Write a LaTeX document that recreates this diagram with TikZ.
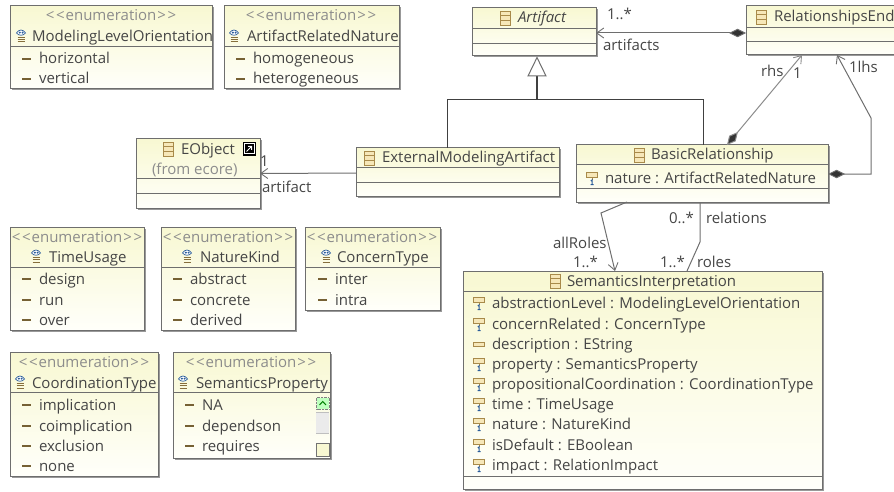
\documentclass[tikz,border=0pt]{standalone}
\usepackage{fontspec}
\setmainfont{Open Sans}
\usetikzlibrary{arrows.meta,shadows,calc}
\definecolor{boxtop}{HTML}{F8F8D2}
\definecolor{boxbot}{HTML}{FFFFFA}
\definecolor{edgec}{HTML}{6E6E6E}
\definecolor{txtc}{HTML}{454545}
\definecolor{sterc}{HTML}{8C8C8C}
\definecolor{tanc}{HTML}{A88A4A}
\definecolor{iconfill}{HTML}{F6E7B8}
\definecolor{bluec}{HTML}{2A5C9A}
\newcounter{lblc}
\newcommand{\sterstr}{<\kern1.6pt<\kern1pt enumeration\kern1pt>\kern1.6pt>}
\tikzset{
  umlbox/.style={draw=edgec,line width=1pt,rectangle,inner sep=0pt,outer sep=0pt,anchor=north west,
    top color=boxtop,bottom color=boxbot,
    drop shadow={shadow xshift=1.5pt,shadow yshift=-1.5pt,fill=black,opacity=.4}},
  divider/.style={draw=edgec,line width=.9pt},
  txt/.style={inner sep=0pt,outer sep=0pt,anchor=base west,text=txtc,font=\fontsize{15}{17}\selectfont},
  mid/.style={txt,anchor=base},
  ster/.style={mid,text=sterc},
  conn/.style={draw=edgec,line width=1pt},
  gen/.style={draw=black!75,line width=1pt},
  open/.style={-{Straight Barb[length=7pt,width=10pt,line width=.9pt]}},
  compopen/.style={{Diamond[length=17pt,width=8.5pt,fill=black!80]}-{Straight Barb[length=7pt,width=10pt,line width=.9pt]}},
  enumdash/.style={draw=tanc!70!black,line width=1.6pt},
}
\newcommand{\umlbox}[7]{%
  \pgfmathsetmacro{\bw}{#4-#2}\pgfmathsetmacro{\bh}{#5-#3}%
  \node[umlbox,minimum width=\bw pt,minimum height=\bh pt] (#1) at (#2,#3) {};
  \foreach \d in {#6}{\draw[divider] (#2,\d) -- (#4,\d);}
}
\newcommand{\lbl}[4][txt]{\stepcounter{lblc}\node[#1] (t\arabic{lblc}) at (#2,#3+5) {#4};}
\newcommand{\classicon}[2]{%
  \draw[tanc,fill=iconfill,line width=.9pt] (#1-5,#2-7) rectangle (#1+5,#2+7);
  \draw[tanc,line width=.9pt] (#1-5,#2-2.3) -- (#1+5,#2-2.3) (#1-5,#2+2.3) -- (#1+5,#2+2.3);}
\newcommand{\enumicon}[2]{%
  \draw[bluec,fill=white,line width=.7pt] (#1-4.5,#2-3) .. controls (#1-2,#2-7) and (#1+2,#2-7) .. (#1+4.5,#2-3) .. controls (#1+2,#2) and (#1-2,#2) .. (#1-4.5,#2-3) -- cycle;
  \fill[bluec] (#1-1.2,#2-3.4) circle (1.1) (#1+1.6,#2-3.4) circle (1.1);
  \draw[tanc!80!black,line width=1pt] (#1-3.5,#2+1.5) -- (#1+3.5,#2+1.5) (#1-3.5,#2+3.8) -- (#1+3.5,#2+3.8) (#1-3.5,#2+6) -- (#1+3.5,#2+6);}
\newcommand{\dashitem}[4]{%
  \draw[enumdash] (#1,#3) -- (#1+8.5,#3);
  \lbl{#2}{#3}{#4}}
\newcommand{\attricon}[2]{%
  \draw[tanc,fill=iconfill,line width=.9pt] (#1-5.5,#2-5.5) rectangle (#1+5.5,#2-1);
  \draw[tanc,line width=.9pt] (#1,#2-1) -- (#1,#2+1.5);
  \draw[bluec,line width=1pt] (#1-1.2,#2+3) -- (#1,#2+2) -- (#1,#2+6.5) (#1-1.5,#2+6.5) -- (#1+1.5,#2+6.5);}
\newcommand{\attr}[3]{\attricon{#1}{#2}\lbl{#1+13}{#2}{#3}}
\begin{document}
\begin{tikzpicture}[x=1pt,y=-1pt]
\useasboundingbox (0,0) rectangle (894,492);
\clip (0,0) rectangle (894,492);
% boxes
\umlbox{modlevel}{10}{6}{212}{89}{46}{}
\umlbox{artnat}{224}{6}{399}{89}{46}{}
\umlbox{eobj}{136}{139}{260}{208}{178,193}{}
\umlbox{ext}{356}{148}{559}{196}{167,182}{}
\umlbox{artifact}{472}{8}{596}{56}{28,43}{}
\umlbox{relend}{746}{6}{905}{55}{27,41}{}
\umlbox{basic}{576}{145}{828}{202}{164,188}{}
\umlbox{sem}{463}{271}{822}{489}{291,476}{}
\umlbox{timeu}{10}{227}{144}{330}{267}{}
\umlbox{natk}{161}{227}{295}{330}{267}{}
\umlbox{conc}{305}{227}{440}{310}{267}{}
\umlbox{coord}{10}{352}{158}{476}{392}{}
\umlbox{semprop}{173}{352}{330}{458}{392}{}
% enumerations
\lbl[ster]{111}{16}{\sterstr}
\enumicon{21}{36}\lbl{32}{37}{ModelingLevelOrientation}
\dashitem{22}{39}{59}{horizontal}\dashitem{22}{39}{79}{vertical}
\lbl[ster]{311}{16}{\sterstr}
\enumicon{234}{36}\lbl{247}{37}{ArtifactRelatedNature}
\dashitem{236}{253}{59}{homogeneous}\dashitem{236}{253}{79}{heterogeneous}
\lbl[ster]{77}{237}{\sterstr}
\enumicon{36}{256}\lbl{49}{257}{TimeUsage}
\dashitem{22}{39}{279}{design}\dashitem{22}{39}{300}{run}\dashitem{22}{39}{320}{over}
\lbl[ster]{228}{237}{\sterstr}
\enumicon{187}{256}\lbl{200}{257}{NatureKind}
\dashitem{173}{190}{279}{abstract}\dashitem{173}{190}{300}{concrete}\dashitem{173}{190}{320}{derived}
\lbl[ster]{372}{237}{\sterstr}
\enumicon{326}{256}\lbl{337}{257}{ConcernType}
\dashitem{318}{335}{279}{inter}\dashitem{318}{335}{300}{intra}
\lbl[ster]{84}{362}{\sterstr}
\enumicon{20}{382}\lbl{32}{383}{CoordinationType}
\dashitem{22}{39}{405}{implication}\dashitem{22}{39}{426}{coimplication}\dashitem{22}{39}{446}{exclusion}\dashitem{22}{39}{466}{none}
\lbl[ster]{251}{362}{\sterstr}
\enumicon{183}{382}\lbl{196}{383}{SemanticsProperty}
\dashitem{185}{202}{405}{NA}\dashitem{185}{202}{426}{dependson}\dashitem{185}{202}{446}{requires}
% scroll bar
\draw[black!50,fill=green!25!white,densely dotted] (316.5,397.5) rectangle (329,409);
\draw[green!50!black,line width=1pt] (319.5,405) -- (322.7,401.5) -- (326,405);
\fill[black!8] (316,412) rectangle (329,433);
\draw[black!25] (316,412) -- (329,412) (316,433) -- (329,433);
\draw[black!55,fill=boxtop] (316.5,443.5) rectangle (329,456);
% classes
\classicon{168}{149}\lbl{181}{149}{EObject}
\draw[black,fill=white,line width=1pt] (243,143) rectangle (255,155);
\fill[black] (244.5,144.5) rectangle (253.5,153.5);
\draw[white,line width=1pt] (246.5,151.5) -- (251,147) (248,146.5) -- (251.5,146.5) -- (251.5,150);
\lbl[txt,text=sterc]{152}{169}{(from ecore)}
\classicon{369}{158}\lbl{382}{158}{ExternalModelingArtifact}
\classicon{505}{18}\lbl{518}{18}{\itshape Artifact}
\classicon{761}{17}\lbl{774}{17}{RelationshipsEnd}
\classicon{639}{155}\lbl{651}{155}{BasicRelationship}
\attr{592}{178}{nature : ArtifactRelatedNature}
\classicon{555}{281}\lbl{567}{281}{SemanticsInterpretation}
\attr{479}{303}{abstractionLevel : ModelingLevelOrientation}
\attr{479}{324}{concernRelated : ConcernType}
\draw[tanc,fill=iconfill,line width=.9pt] (473.5,342) rectangle (484.5,346.5);
\lbl{492}{344}{description : EString}
\attr{479}{364}{property : SemanticsProperty}
\attr{479}{384}{propositionalCoordination : CoordinationType}
\attr{479}{404}{time : TimeUsage}
\attr{479}{424}{nature : NatureKind}
\attr{479}{445}{isDefault : EBoolean}
\attr{479}{465}{impact : RelationImpact}
% connectors
\draw[conn,open] ([yshift=-1pt]ext.west) -- (eobj.east);
\draw[conn,compopen] ([yshift=-2.5pt]relend.west) -- ([yshift=-1pt]artifact.east);
\coordinate (genjoin) at (537,100);
\draw[gen,line width=2pt] (genjoin) -- (537,76);
\draw[fill=white,draw=edgec,line width=1pt] (537,57.5) -- (546,76) -- (528,76) -- cycle;
\draw[gen] ([xshift=91pt]ext.north west) |- (genjoin);
\draw[gen] ([xshift=127pt]basic.north west) |- (genjoin);
\draw[conn,compopen,draw=edgec!80] ([xshift=151pt]basic.north west) -- ([xshift=56pt]relend.south west);
\draw[conn,compopen] ([yshift=-0.5pt]basic.east) -- (871,174) -- (871,118) -- ([xshift=91pt]relend.south west);
\draw[conn,open] ([xshift=51pt]basic.south west) -- (601,213) -- ([xshift=152pt]sem.north west);
\draw[conn] ([xshift=124pt]basic.south west) -- (700,242) -- ([xshift=224pt]sem.north west);
% labels
\lbl{260}{162}{1}
\lbl{262}{187}{artifact}
\lbl{607}{15}{1..*}
\lbl{603}{46}{artifacts}
\lbl{761}{72}{rhs}
\lbl{793}{74}{1}
\lbl{849}{68}{1lhs}
\lbl{553}{243}{allRoles}
\lbl{573}{262}{1..*}
\lbl{660}{262}{1..*}
\lbl{697}{262}{roles}
\lbl{669}{218}{0..*}
\lbl{706}{218}{relations}
\end{tikzpicture}
\end{document}
